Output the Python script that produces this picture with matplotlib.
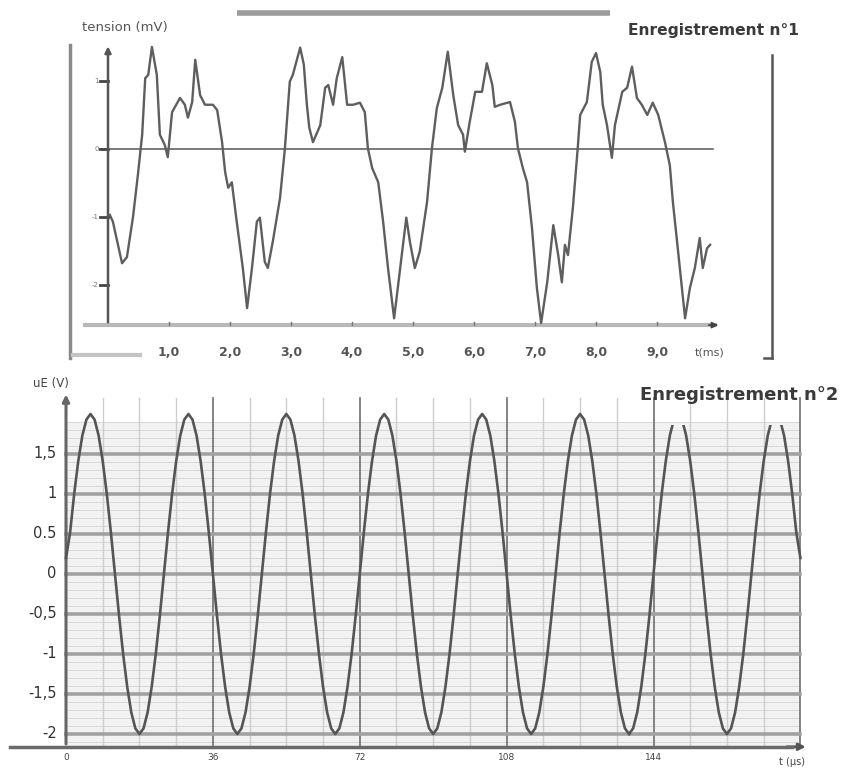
import numpy as np
import matplotlib.pyplot as plt
from matplotlib.patches import Rectangle

# ---------- données : enregistrement n°1 (tension en fonction du temps, ms) ----------
t1 = [0.03, 0.08, 0.23, 0.31, 0.41, 0.49, 0.56, 0.61, 0.66, 0.72, 0.80, 0.85, 0.93, 0.98,
      1.05, 1.18, 1.26, 1.31, 1.38, 1.43, 1.51, 1.59, 1.72, 1.79, 1.87, 1.92, 1.97, 2.03,
      2.11, 2.21, 2.28, 2.36, 2.44, 2.49, 2.57, 2.62, 2.70, 2.82, 2.90, 2.98, 3.03, 3.15,
      3.21, 3.26, 3.30, 3.36, 3.48, 3.56, 3.61, 3.69, 3.75, 3.84, 3.92, 4.02, 4.13, 4.21,
      4.26, 4.33, 4.43, 4.51, 4.59, 4.69, 4.79, 4.89, 4.95, 5.03, 5.11, 5.23, 5.31, 5.39,
      5.48, 5.57, 5.66, 5.74, 5.82, 5.85, 5.93, 6.02, 6.13, 6.21, 6.30, 6.34, 6.43, 6.59,
      6.67, 6.72, 6.80, 6.87, 6.95, 7.03, 7.10, 7.20, 7.30, 7.38, 7.44, 7.49, 7.54, 7.62,
      7.70, 7.74, 7.85, 7.93, 8.00, 8.07, 8.11, 8.18, 8.26, 8.31, 8.43, 8.51, 8.59, 8.67,
      8.75, 8.84, 8.93, 9.02, 9.13, 9.21, 9.26, 9.34, 9.46, 9.54, 9.62, 9.70, 9.75, 9.82,
      9.87]
u1 = [-0.97, -1.07, -1.68, -1.59, -1.00, -0.38, 0.21, 1.04, 1.09, 1.50, 1.09, 0.21, 0.06, -0.12,
      0.54, 0.75, 0.65, 0.46, 0.69, 1.31, 0.79, 0.65, 0.65, 0.57, 0.10, -0.34, -0.57, -0.49,
      -1.07, -1.75, -2.34, -1.75, -1.07, -1.01, -1.66, -1.75, -1.37, -0.72, 0.01, 0.99, 1.09, 1.49,
      1.24, 0.65, 0.31, 0.10, 0.35, 0.90, 0.94, 0.65, 1.04, 1.35, 0.65, 0.65, 0.68, 0.54,
      0.01, -0.28, -0.49, -1.07, -1.75, -2.49, -1.75, -1.01, -1.37, -1.75, -1.51, -0.78, 0.01, 0.60,
      0.90, 1.43, 0.79, 0.35, 0.21, -0.04, 0.40, 0.84, 0.84, 1.26, 0.94, 0.62, 0.65, 0.69,
      0.40, 0.01, -0.28, -0.49, -1.16, -2.04, -2.56, -1.96, -1.12, -1.56, -1.96, -1.41, -1.56, -0.87,
      0.01, 0.50, 0.69, 1.28, 1.41, 1.13, 0.65, 0.35, -0.13, 0.35, 0.84, 0.90, 1.21, 0.75,
      0.65, 0.50, 0.68, 0.50, 0.10, -0.24, -0.78, -1.46, -2.49, -2.04, -1.75, -1.31, -1.75, -1.46,
      -1.41]
ticks1 = [1, 2, 3, 4, 5, 6, 7, 8, 9]
ticklabels1 = ["1,0", "2,0", "3,0", "4,0", "5,0", "6,0", "7,0", "8,0", "9,0"]
yticks1 = [1, 0, -1, -2]

# ---------- données : enregistrement n°2 (uE en V, un point par µs) ----------
dt2 = 1.0
u2 = [0.2, 0.52, 1.0, 1.41, 1.73, 1.93, 2.0, 1.93, 1.73, 1.41, 1.0, 0.52,
      0.0, -0.52, -1.0, -1.41, -1.73, -1.93, -2.0, -1.93, -1.73, -1.41, -1.0, -0.52,
      0.0, 0.52, 1.0, 1.41, 1.73, 1.93, 2.0, 1.93, 1.73, 1.41, 1.0, 0.52,
      0.0, -0.52, -1.0, -1.41, -1.73, -1.93, -2.0, -1.93, -1.73, -1.41, -1.0, -0.52,
      0.0, 0.52, 1.0, 1.41, 1.73, 1.93, 2.0, 1.93, 1.73, 1.41, 1.0, 0.52,
      0.0, -0.52, -1.0, -1.41, -1.73, -1.93, -2.0, -1.93, -1.73, -1.41, -1.0, -0.52,
      0.0, 0.52, 1.0, 1.41, 1.73, 1.93, 2.0, 1.93, 1.73, 1.41, 1.0, 0.52,
      0.0, -0.52, -1.0, -1.41, -1.73, -1.93, -2.0, -1.93, -1.73, -1.41, -1.0, -0.52,
      0.0, 0.52, 1.0, 1.41, 1.73, 1.93, 2.0, 1.93, 1.73, 1.41, 1.0, 0.52,
      0.0, -0.52, -1.0, -1.41, -1.73, -1.93, -2.0, -1.93, -1.73, -1.41, -1.0, -0.52,
      0.0, 0.52, 1.0, 1.41, 1.73, 1.93, 2.0, 1.93, 1.73, 1.41, 1.0, 0.52,
      0.0, -0.52, -1.0, -1.41, -1.73, -1.93, -2.0, -1.93, -1.73, -1.41, -1.0, -0.52,
      0.0, 0.52, 1.0, 1.41, 1.73, 1.93, 2.0, 1.93, 1.73, 1.41, 1.0, 0.52,
      0.0, -0.52, -1.0, -1.41, -1.73, -1.93, -2.0, -1.93, -1.73, -1.41, -1.0, -0.52,
      0.0, 0.52, 1.0, 1.41, 1.73, 1.93, 2.0, 1.93, 1.73, 1.41, 1.0, 0.52,
      0.2]
t2 = np.arange(len(u2)) * dt2
ticks2 = [0, 36, 72, 108, 144]
yticks2 = [1.5, 1, 0.5, 0, -0.5, -1, -1.5, -2]
yticklabels2 = ["1,5", "1", "0.5", "0", "-0,5", "-1", "-1,5", "-2"]

W, H = 848, 771
fig = plt.figure(figsize=(W / 100, H / 100), dpi=100)
fig.patch.set_facecolor("white")

# ---------- panneau du haut ----------
ax1 = fig.add_axes([60 / W, 401 / H, 720 / W, 370 / H])
ax1.set_xlim(-0.787, 11.016)
ax1.set_ylim(-3.25, 2.19)
ax1.axis("off")

ax1.plot([2.11, 8.23], [2.0, 2.0], color="#9c9c9c", lw=4, solid_capstyle="butt")
ax1.plot([-0.62, -0.62], [1.53, -3.07], color="#8a8a8a", lw=2.5)
ax1.plot([-0.57, 0.52], [-3.03, -3.03], color="#c4c4c4", lw=3)
ax1.plot([10.89, 10.89], [1.38, -3.07], color="#555555", lw=1.8)
ax1.plot([10.75, 10.89], [-3.07, -3.07], color="#555555", lw=1.8)

ax1.plot([-0.38, 9.95], [-2.59, -2.59], color="#b8b8b8", lw=3, zorder=1)
ax1.annotate("", xy=(10.05, -2.59), xytext=(9.8, -2.59),
             arrowprops=dict(arrowstyle="-|>", color="#444444", lw=1.2, mutation_scale=9))
ax1.annotate("", xy=(0, 1.55), xytext=(0, -2.59),
             arrowprops=dict(arrowstyle="-|>", color="#555555", lw=1.8, mutation_scale=9))
ax1.plot([-0.13, 9.92], [0, 0], color="#555555", lw=1.1, zorder=2)

for v in yticks1:
    ax1.plot([-0.13, 0], [v, v], color="#444444", lw=2)
    ax1.text(-0.15, v, str(v), ha="right", va="center", fontsize=5, color="#777777")
for t, lab in zip(ticks1, ticklabels1):
    ax1.plot([t, t], [-2.59, -2.54], color="#777777", lw=1)
    ax1.text(t, -2.99, lab, ha="center", va="center", fontsize=9, fontweight="bold",
             color="#555555")
ax1.text(9.87, -2.99, "t(ms)", ha="center", va="center", fontsize=8, color="#555555")
ax1.text(-0.43, 1.79, "tension (mV)", ha="left", va="center", fontsize=9.5, color="#555555")

ax1.plot(t1, u1, color="#5e5e5e", lw=1.7, zorder=3)

fig.text(628 / W, 1 - 30 / H, "Enregistrement n°1", ha="left", va="center",
         fontsize=11.2, fontweight="bold", color="#3a3a3a")

# ---------- panneau du bas ----------
ax2 = fig.add_axes([0, 0, 1, 401 / H])
ax2.set_xlim(-16.18, 191.67)
ax2.set_ylim(-2.4625, 2.55)
ax2.axis("off")

ax2.fill_between([0, 180], -2.15, 1.9, color="#f2f2f2", zorder=0, lw=0)
for v in np.arange(-2.1, 1.91, 0.1):
    ax2.plot([0, 180], [v, v], color="#d3d3d3", lw=0.6, zorder=1)
for t in np.arange(9, 181, 9):
    major = t % 36 == 0
    ax2.plot([t, t], [-2.16, 2.2], color="#7a7a7a" if major else "#cdcdcd",
             lw=1.3 if major else 1.0, zorder=1)
for v in yticks2:
    ax2.plot([0, 180], [v, v], color="#a2a2a2", lw=2.6, zorder=2)

ax2.plot([-13.7, 178], [-2.16, -2.16], color="#6a6a6a", lw=2.5, zorder=4)
ax2.annotate("", xy=(182, -2.16), xytext=(176, -2.16),
             arrowprops=dict(arrowstyle="-|>", color="#555555", lw=2, mutation_scale=10))
ax2.annotate("", xy=(0, 2.28), xytext=(0, -2.16),
             arrowprops=dict(arrowstyle="-|>", color="#666666", lw=2.2, mutation_scale=10),
             zorder=4)

for v, lab in zip(yticks2, yticklabels2):
    ax2.text(-2.3, v, lab, ha="right", va="center", fontsize=10.5, color="#333333")
for t in ticks2:
    ax2.text(t, -2.30, str(t), ha="center", va="center", fontsize=6.5, color="#444444")
ax2.text(178, -2.35, "t (µs)", ha="center", va="center", fontsize=7, color="#444444")
ax2.text(-3.7, 2.38, "uE (V)", ha="center", va="center", fontsize=8.5, color="#444444")

# l'enregistrement sature en haut de l'écran sur la fin
split = 138
ax2.plot(t2[t2 <= split], np.array(u2)[t2 <= split], color="#555555", lw=1.9, zorder=5)
line_end, = ax2.plot(t2[t2 >= split], np.array(u2)[t2 >= split], color="#555555", lw=1.9,
                     zorder=5)
clip = Rectangle((split, -3), 60, 4.86, transform=ax2.transData, fill=False)
line_end.set_clip_path(clip)

fig.text(640 / W, 1 - 395 / H, "Enregistrement n°2", ha="left", va="center",
         fontsize=13, fontweight="bold", color="#3a3a3a")

fig.savefig("out.png", dpi=100, facecolor="white")
